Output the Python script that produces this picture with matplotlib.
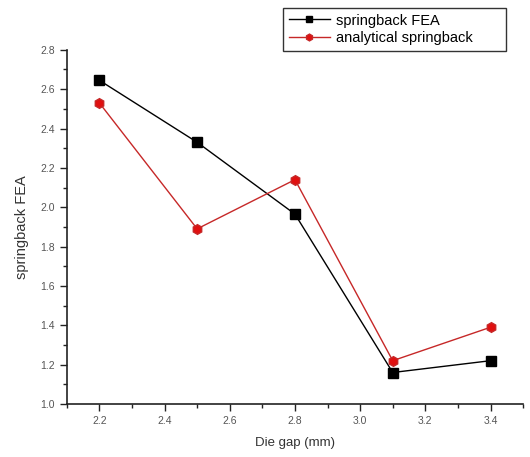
import matplotlib
matplotlib.use('Agg')
import matplotlib.pyplot as plt
from matplotlib.ticker import MultipleLocator

plt.rcParams['font.family'] = ['Liberation Sans', 'DejaVu Sans']

# data
die_gap = [2.2, 2.5, 2.8, 3.1, 3.4]
springback_fea = [2.645, 2.33, 1.965, 1.16, 1.22]
analytical_springback = [2.53, 1.89, 2.14, 1.22, 1.39]

fig = plt.figure(figsize=(5.3, 4.57), dpi=100)
ax = fig.add_axes([0.126, 0.116, 0.861, 0.775])

ax.plot(die_gap, springback_fea, color='black', lw=1.0, marker='s', ms=6.5,
        label='springback FEA')
ax.plot(die_gap, analytical_springback, color='#c62828', lw=1.0, marker='h', ms=7,
        mfc='#e01010', mec='#c62828', label='analytical springback')

ax.set_xlim(2.1, 3.5)
ax.set_ylim(1.0, 2.8)
ax.xaxis.set_major_locator(MultipleLocator(0.2))
ax.xaxis.set_minor_locator(MultipleLocator(0.1))
ax.yaxis.set_major_locator(MultipleLocator(0.2))
ax.yaxis.set_minor_locator(MultipleLocator(0.1))
ax.set_xticks([2.2, 2.4, 2.6, 2.8, 3.0, 3.2, 3.4])

for s in ['top', 'right']:
    ax.spines[s].set_visible(False)
for s in ['left', 'bottom']:
    ax.spines[s].set_linewidth(1.2)
    ax.spines[s].set_color('#222222')

ax.tick_params(which='major', direction='out', length=5, width=1.0,
               labelsize=7.5, labelcolor='#555555', color='#222222')
ax.tick_params(which='minor', direction='out', length=3, width=1.0, color='#222222')
ax.xaxis.set_major_formatter(plt.FuncFormatter(lambda v, p: '%.1f' % v))
ax.yaxis.set_major_formatter(plt.FuncFormatter(lambda v, p: '%.1f' % v))

ax.set_xlabel('Die gap (mm)', fontsize=9.5, color='#333333', labelpad=8)
ax.set_ylabel('springback FEA', fontsize=10.5, color='#333333', labelpad=8)

leg = fig.legend(loc='lower left', mode='expand',
                 bbox_to_anchor=(283 / 530, 1 - 51 / 457, 223 / 530, 46 / 457),
                 fontsize=10.5, frameon=True, fancybox=False, edgecolor='black',
                 handlelength=2.8, borderpad=0.4, labelspacing=0.25,
                 handletextpad=0.4, borderaxespad=0, markerscale=0.7)
leg.get_frame().set_linewidth(1.0)

fig.savefig('out.png', dpi=100)
